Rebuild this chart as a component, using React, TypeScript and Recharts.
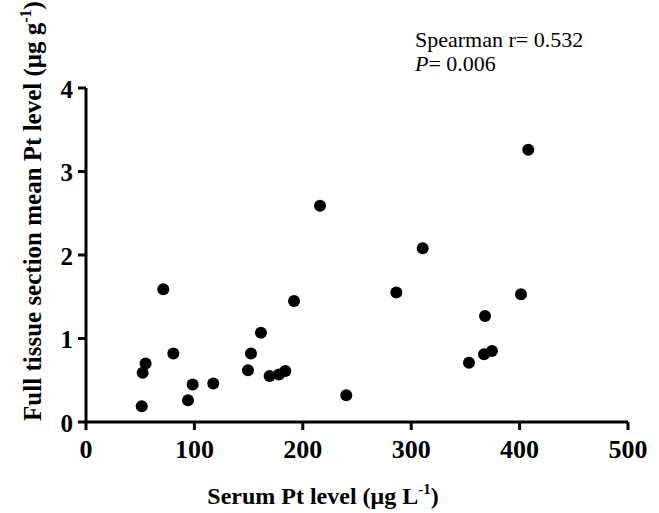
import React from "react";
import { ScatterChart, Scatter, XAxis, YAxis, Label } from "recharts";

const serumPt = [71.3, 191.9, 161.4, 80.6, 152.2, 55.0, 52.3, 149.4, 169.4, 178.0, 183.9, 98.4, 117.4, 94.1, 51.4, 215.9, 310.6, 286.3, 401.3, 368.1, 374.5, 367.2, 353.3, 240.1, 408.0];
const tissuePt = [1.59, 1.45, 1.07, 0.82, 0.82, 0.70, 0.59, 0.62, 0.55, 0.57, 0.61, 0.45, 0.46, 0.26, 0.19, 2.59, 2.08, 1.55, 1.53, 1.27, 0.85, 0.81, 0.71, 0.32, 3.26];
const xTicks = [0, 100, 200, 300, 400, 500];
const yTicks = [0, 1, 2, 3, 4];

const data = serumPt.map((x, i) => ({ x, y: tissuePt[i] }));

const FONT = '"Liberation Serif", "Times New Roman", serif';

const XTick = (p: any) => (
  <text x={p.x} y={p.y + 17} textAnchor="middle" fontFamily={FONT} fontSize={26} fontWeight="bold" fill="#000">
    {p.payload.value}
  </text>
);

const YTick = (p: any) => (
  <text x={p.x} y={p.y + 9.5} textAnchor="end" fontFamily={FONT} fontSize={25} fontWeight="bold" fill="#000">
    {p.payload.value}
  </text>
);

const XTitle = () => (
  <text x={323} y={504} textAnchor="middle" fontFamily={FONT} fontSize={24} fontWeight="bold" fill="#000">
    <tspan>Serum Pt level (μg L</tspan>
    <tspan fontSize={15} dy={-10}>-1</tspan>
    <tspan dy={10}>)</tspan>
  </text>
);

const YTitle = () => (
  <text x={0} y={0} transform="translate(41,211) rotate(-90)" textAnchor="middle" fontFamily={FONT} fontSize={25} fontWeight="bold" fill="#000">
    <tspan>Full tissue section mean Pt level (μg g</tspan>
    <tspan fontSize={16} dy={-10}>-1</tspan>
    <tspan dy={10}>)</tspan>
  </text>
);

export default function App() {
  return (
    <div style={{ position: "absolute", left: 0, top: 0, background: "#fff" }}>
      <ScatterChart width={659} height={513} margin={{ top: 88, right: 31, bottom: 31, left: 0 }}>
        <XAxis
          type="number"
          dataKey="x"
          domain={[0, 500]}
          ticks={xTicks}
          interval={0}
          height={60}
          tick={<XTick />}
          tickSize={8}
          tickMargin={11}
          axisLine={{ stroke: "#000", strokeWidth: 3 }}
          tickLine={{ stroke: "#000", strokeWidth: 3 }}
        >
          <Label content={() => <XTitle />} />
        </XAxis>
        <YAxis
          type="number"
          dataKey="y"
          domain={[0, 4]}
          ticks={yTicks}
          interval={0}
          width={86}
          tick={<YTick />}
          tickSize={8}
          tickMargin={5}
          axisLine={{ stroke: "#000", strokeWidth: 3 }}
          tickLine={{ stroke: "#000", strokeWidth: 3 }}
        >
          <Label content={() => <YTitle />} />
        </YAxis>
        <Scatter
          data={data}
          fill="#000"
          isAnimationActive={false}
          shape={(p: any) => <circle cx={p.cx} cy={p.cy} r={6} fill="#000" />}
        />
      </ScatterChart>
      <svg width={659} height={513} style={{ position: "absolute", left: 0, top: 0, pointerEvents: "none" }}>
        <text x={415} y={47} fontFamily={FONT} fontSize={22} fill="#000">Spearman r= 0.532</text>
        <text x={415} y={71} fontFamily={FONT} fontSize={22} fill="#000">
          <tspan fontStyle="italic">P</tspan>
          <tspan>= 0.006</tspan>
        </text>
      </svg>
    </div>
  );
}
